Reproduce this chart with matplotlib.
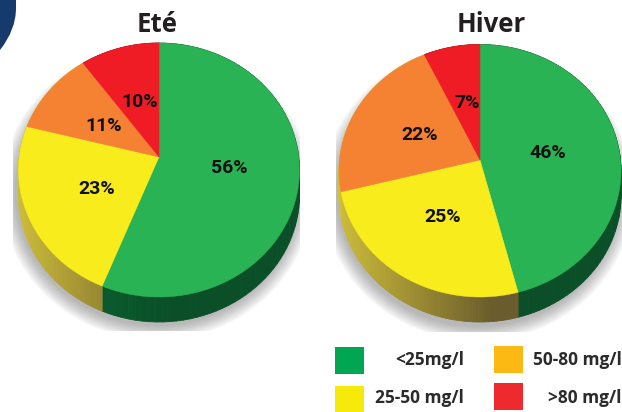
import matplotlib
matplotlib.use('Agg')
import matplotlib.pyplot as plt
import numpy as np
from matplotlib.collections import PolyCollection
from matplotlib.patches import Ellipse, PathPatch, Rectangle
from matplotlib.path import Path

plt.rcParams['font.family'] = ['Open Sans', 'DejaVu Sans']

# Share of samples per nitrate class, clockwise from the top
categories = ['<25mg/l', '25-50 mg/l', '50-80 mg/l', '>80 mg/l']
ete_values = [56, 23, 11, 10]
hiver_values = [46, 25, 22, 7]

slice_colors = ['#2ab355', '#f8ec1c', '#f58232', '#ef1c25']
legend_colors = ['#00a651', '#f5ea0a', '#fdb913', '#ee2a2e']
# side wall colours per slice, (left end of the pie, right end of the pie)
wall_colors = [('#0c6a33', '#0a4f28'), ('#cdbc3a', '#6a5c2c'),
               ('#d2c03c', '#d2c03c'), ('#a01a1a', '#a01a1a')]

DEPTH = 25


def to_rgb(c):
    return np.array(matplotlib.colors.to_rgb(c))


# Tilted disc: unit circle point -> pixel position, with a perspective term
# so the centre of the pie sits above the middle of the ellipse
def project(t, cx, apex_y, top, bottom, rx):
    up = apex_y - top
    down = bottom - apex_y
    k = (down - up) / (down + up)
    b = up * (1 + k)
    a = rx * np.sqrt(1 - k ** 2)
    w = 1 + k * np.cos(t)
    return cx + a * np.sin(t) / w, apex_y - b * np.cos(t) / w


def draw_shadow(ax, cx, cy, rx, ry, x0, x1, y0, y1):
    box = Rectangle((x0, y0), x1 - x0, y1 - y0, transform=ax.transData)
    for grow in np.linspace(14, 0, 15):
        e = Ellipse((cx, cy), 2 * (rx + grow), 2 * (ry + grow),
                    facecolor='#555555', edgecolor='none', alpha=0.03, zorder=1)
        ax.add_patch(e)
        e.set_clip_path(box)


def draw_pie(ax, values, cx, apex_y, top, bottom, rx, label_pos):
    fractions = np.cumsum([0] + values) / sum(values) * 2 * np.pi
    left = cx - rx

    # Side wall first, the top face covers whatever is not visible
    quads = []
    colors = []
    for i in range(len(values)):
        ts = np.linspace(fractions[i], fractions[i + 1], 80)
        for t0, t1 in zip(ts[:-1], ts[1:]):
            x0, y0 = project(t0, cx, apex_y, top, bottom, rx)
            x1, y1 = project(t1, cx, apex_y, top, bottom, rx)
            quads.append([(x0, y0), (x1, y1), (x1, y1 + DEPTH), (x0, y0 + DEPTH)])
            u = min((x0 - left) / (1.1 * rx), 1)
            colors.append((1 - u) * to_rgb(wall_colors[i][0]) + u * to_rgb(wall_colors[i][1]))
    ax.add_collection(PolyCollection(quads, facecolors=colors, edgecolors=colors,
                                     linewidths=0.6, zorder=2))

    # Top face
    for i in range(len(values)):
        ts = np.linspace(fractions[i], fractions[i + 1], 120)
        xs, ys = project(ts, cx, apex_y, top, bottom, rx)
        ax.fill(np.r_[cx, xs], np.r_[apex_y, ys], color=slice_colors[i], lw=0.3, zorder=3)
        ax.text(label_pos[i][0], label_pos[i][1], f'{values[i]}%', ha='center', va='center',
                fontsize=14, fontweight='bold', color='#111111', zorder=4,
                family=['Roboto', 'DejaVu Sans'])


fig = plt.figure(figsize=(6.22, 4.12), dpi=100)
ax = fig.add_axes([0, 0, 1, 1])
ax.set_xlim(0, 622)
ax.set_ylim(412, 0)
ax.axis('off')

# Dark blue corner shape
corner = Path([(0, 0), (16, 0), (16, 8), (16, 30), (0, 50), (0, 0)],
              [Path.MOVETO, Path.LINETO, Path.LINETO, Path.CURVE3, Path.CURVE3, Path.CLOSEPOLY])
ax.add_patch(PathPatch(corner, facecolor='#163a6b', edgecolor='none', zorder=1))

draw_shadow(ax, 157, 192, 142, 134, 13, 300, 40, 331)
draw_shadow(ax, 478, 193, 142, 134, 336, 622, 40, 332)

draw_pie(ax, ete_values, 159, 157, 43, 297, 140.5,
         [(229, 168), (97, 189), (104, 126), (140, 102)])
draw_pie(ax, hiver_values, 480, 160, 44.5, 297, 141,
         [(548, 153), (443, 217), (420, 135), (467, 103)])

ax.text(157, 24, 'Eté', ha='center', va='center', fontsize=18.5, fontweight='bold', color='#231f20')
ax.text(491, 24, 'Hiver', ha='center', va='center', fontsize=18.5, fontweight='bold', color='#231f20')

# Legend built by hand, two columns of squares with right aligned text
legend_boxes = [(335, 347, 27), (335, 386, 26), (494, 346, 27), (494, 383, 27)]
legend_text_x = [464, 464, 622, 622]
legend_text_y = [360, 398, 360, 398]
for i, name in enumerate(categories):
    x, y, h = legend_boxes[i]
    ax.add_patch(Rectangle((x, y), 29, h, facecolor=legend_colors[i], edgecolor='none'))
    ax.text(legend_text_x[i], legend_text_y[i], name, ha='right', va='center',
            fontsize=12.4, fontweight='bold', color='#2b2b2d')

fig.savefig('out.png', dpi=100)
